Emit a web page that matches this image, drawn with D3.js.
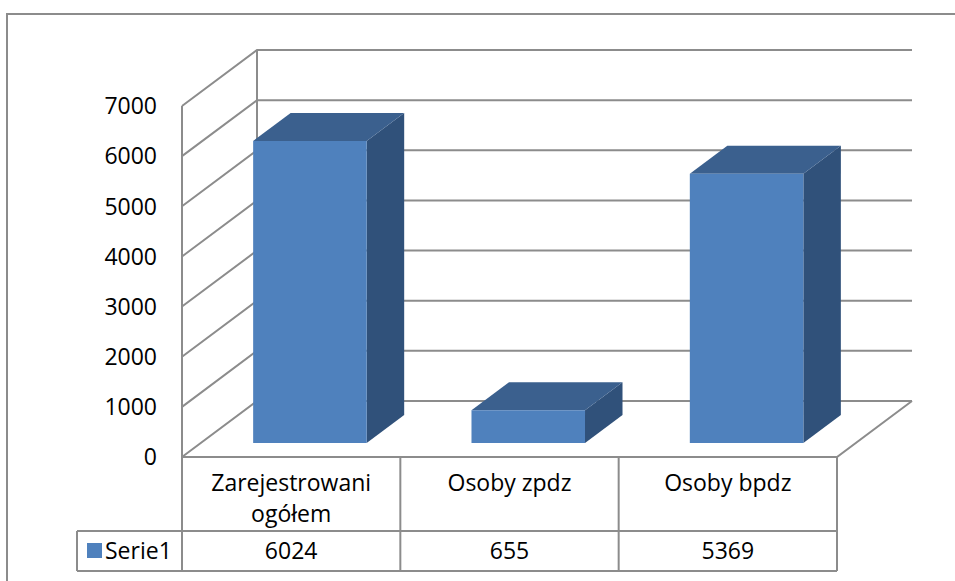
<!DOCTYPE html>
<html lang="pl">
<head>
<meta charset="UTF-8">
<script src="https://d3js.org/d3.v7.min.js"></script>
<style>
  body { margin: 0; background: #fff; }
  svg { display: block; }
  text { font-family: "Open Sans", "Liberation Sans", sans-serif; fill: #000; }
</style>
</head>
<body>
<svg width="955" height="581"></svg>
<script>
// chart data
const categories = ["Zarejestrowani ogółem", "Osoby zpdz", "Osoby bpdz"];
const categoryLines = [["Zarejestrowani", "ogółem"], ["Osoby zpdz"], ["Osoby bpdz"]];
const seriesName = "Serie1";
const values = [6024, 655, 5369];
const yTicks = [0, 1000, 2000, 3000, 4000, 5000, 6000, 7000];

const gridColor = "#8c8c8c";
const frontColor = "#4f81bd", topColor = "#3b608e", sideColor = "#30517a";
const fontSize = 23;

// 3D plot box (front plane)
const plotLeft = 182, plotRight = 837, plotBottom = 457, plotTop = 106;
const depthX = 75, depthY = -56;   // offset of the back wall
const d0 = 0.25, d1 = 0.75;         // bar depth range

const svg = d3.select("svg");

// outer frame
svg.append("rect")
    .attr("x", 7).attr("y", 14).attr("width", 1000).attr("height", 700)
    .attr("fill", "none").attr("stroke", gridColor).attr("stroke-width", 2);

const y = d3.scaleLinear().domain([0, 7000]).range([plotBottom, plotTop]);
const x = d3.scaleBand().domain(categories).range([plotLeft, plotRight]);

// project a point at given depth fraction
const P = (px, py, d) => [px + d * depthX, py + d * depthY];
const line = d3.line();

const walls = svg.append("g")
    .attr("fill", "none").attr("stroke", gridColor).attr("stroke-width", 2);

// left wall edges
walls.append("path").attr("d", line([P(plotLeft, y(0), 0), P(plotLeft, y(7000), 0)]));
walls.append("path").attr("d", line([P(plotLeft, y(0), 1), P(plotLeft, y(7000), 1)]));

// gridlines: left wall diagonal + back wall horizontal
yTicks.forEach(t => {
  walls.append("path").attr("d", line([
    P(plotLeft, y(t), 0), P(plotLeft, y(t), 1), P(plotRight, y(t), 1)
  ]));
});

// floor
walls.append("path").attr("d", line([
  P(plotLeft, y(0), 0), P(plotRight, y(0), 0), P(plotRight, y(0), 1)
]));

// y axis labels
svg.append("g").selectAll("text")
  .data(yTicks).join("text")
    .attr("x", 157)
    .attr("y", d => y(d))
    .attr("dy", "0.36em")
    .attr("text-anchor", "end")
    .attr("font-size", fontSize)
    .text(d => d);

// bars
const barW = x.bandwidth() * 0.52;
const bars = svg.append("g").selectAll("g")
  .data(categories.map((c, i) => ({ c, v: values[i] })))
  .join("g");

bars.each(function (d) {
  const g = d3.select(this);
  const cx = x(d.c) + x.bandwidth() / 2;
  const xl = cx - barW / 2, xr = cx + barW / 2;
  const yv = y(d.v), yb = y(0);
  // side face
  g.append("path").attr("fill", sideColor).attr("d", line([
    P(xr, yv, d0), P(xr, yv, d1), P(xr, yb, d1), P(xr, yb, d0)
  ]) + "Z");
  // top face
  g.append("path").attr("fill", topColor).attr("d", line([
    P(xl, yv, d0), P(xr, yv, d0), P(xr, yv, d1), P(xl, yv, d1)
  ]) + "Z");
  // front face
  g.append("path").attr("fill", frontColor).attr("d", line([
    P(xl, yv, d0), P(xr, yv, d0), P(xr, yb, d0), P(xl, yb, d0)
  ]) + "Z");
});

// data table
const rowSep = 531, tableBottom = 571, tableLeft = 77;
const table = svg.append("g")
    .attr("fill", "none").attr("stroke", gridColor).attr("stroke-width", 2);
table.append("path").attr("d", line([[tableLeft, rowSep], [plotRight, rowSep]]));
table.append("path").attr("d", line([[tableLeft, tableBottom], [plotRight, tableBottom]]));
table.append("path").attr("d", line([[tableLeft, rowSep], [tableLeft, tableBottom]]));
[plotLeft, ...categories.map(c => x(c) + x.bandwidth())].forEach(px => {
  table.append("path").attr("d", line([[px, plotBottom], [px, tableBottom]]));
});

// category header cells and values
categories.forEach((c, i) => {
  const cx = x(c) + x.bandwidth() / 2;
  categoryLines[i].forEach((t, k) => {
    svg.append("text")
      .attr("x", cx)
      .attr("y", 483 + k * 31)
      .attr("dy", "0.36em")
      .attr("text-anchor", "middle")
      .attr("font-size", fontSize)
      .text(t);
  });
  svg.append("text")
    .attr("x", cx)
    .attr("y", 551)
    .attr("dy", "0.36em")
    .attr("text-anchor", "middle")
    .attr("font-size", fontSize)
    .text(values[i]);
});

// legend key in table
svg.append("rect")
    .attr("x", 87).attr("y", 543).attr("width", 15).attr("height", 15)
    .attr("fill", frontColor);
svg.append("text")
    .attr("x", 105).attr("y", 551).attr("dy", "0.36em")
    .attr("font-size", fontSize)
    .text(seriesName);
</script>
</body>
</html>
